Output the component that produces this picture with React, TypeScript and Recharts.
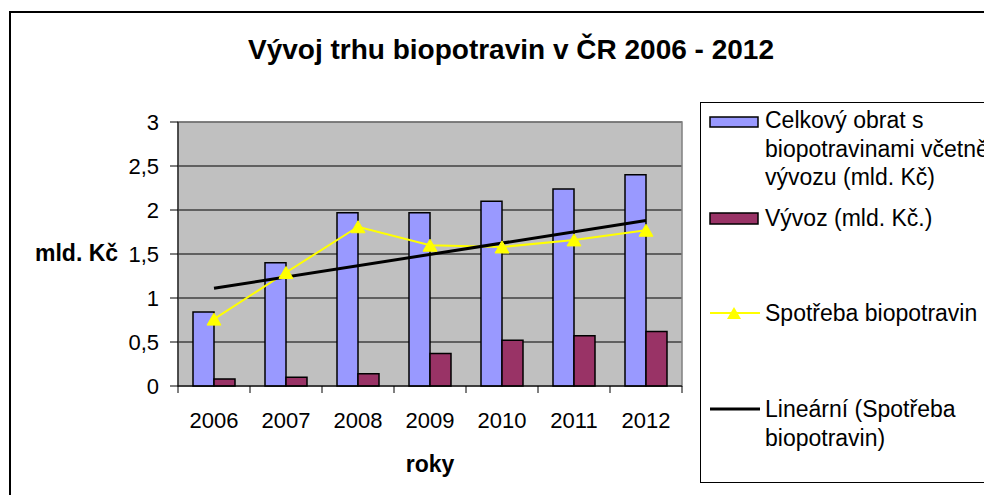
import { ComposedChart, Bar, Line, XAxis, YAxis, CartesianGrid, ReferenceArea } from 'recharts';

const years = ['2006', '2007', '2008', '2009', '2010', '2011', '2012'];
const obrat = [0.84, 1.4, 1.97, 1.97, 2.1, 2.24, 2.4];
const vyvoz = [0.08, 0.1, 0.14, 0.37, 0.52, 0.57, 0.62];
const spotreba = [0.76, 1.29, 1.81, 1.6, 1.58, 1.66, 1.77];
// Excel linear trend of spotreba, read at its two ends
const trend = [1.11, null, null, null, null, null, 1.88];
const yTicks = [0, 0.5, 1, 1.5, 2, 2.5, 3];

const seriesNames = [
  ['Celkový obrat s', 'biopotravinami včetně', 'vývozu (mld. Kč)'],
  ['Vývoz (mld. Kč.)'],
  ['Spotřeba biopotravin'],
  ['Lineární (Spotřeba', 'biopotravin)'],
];

const data = years.map((year, i) => ({
  year,
  obrat: obrat[i],
  vyvoz: vyvoz[i],
  spotreba: spotreba[i],
  trend: trend[i],
}));

const FONT = '"Liberation Sans", Arial, sans-serif';
const BLUE = '#9999FF';
const PLUM = '#993366';
const YELLOW = '#FFFF00';

function Triangle({ cx, cy }: any) {
  if (cx == null || cy == null) return null;
  return (
    <polygon
      points={`${cx},${cy - 6} ${cx + 7},${cy + 6} ${cx - 7},${cy + 6}`}
      fill={YELLOW}
      stroke={YELLOW}
    />
  );
}

function YearTick({ x, y, payload, index, visibleTicksCount }: any) {
  const axisY = y - 8;
  const half = payload?.offset || 36;
  return (
    <g>
      <line x1={x - half} x2={x - half} y1={axisY} y2={axisY + 7} stroke="#000" />
      {index === visibleTicksCount - 1 && (
        <line x1={x + half} x2={x + half} y1={axisY} y2={axisY + 7} stroke="#000" />
      )}
      <text x={x} y={axisY + 42} textAnchor="middle" fontSize={22} fontFamily={FONT} fill="#000">
        {payload.value}
      </text>
    </g>
  );
}

function LegendText({ lines, y }: { lines: string[]; y: number }) {
  return (
    <>
      {lines.map((t, i) => (
        <text key={i} x={765} y={y + i * 28.5} fontSize={23} fontFamily={FONT} fill="#000">
          {t}
        </text>
      ))}
    </>
  );
}

export default function App() {
  return (
    <div style={{ position: 'absolute', left: 0, top: 0, width: 984, height: 495, overflow: 'hidden', background: '#fff' }}>
      <div
        style={{
          position: 'absolute', left: 9, top: 11, width: 1000, height: 500,
          border: '2px solid #000', boxSizing: 'border-box',
        }}
      />
      <div style={{ position: 'absolute', left: 0, top: 0 }}>
        <ComposedChart
          width={984}
          height={495}
          data={data}
          margin={{ top: 122, right: 302, bottom: 69, left: 118 }}
          barGap={0}
        >
          <CartesianGrid vertical={false} stroke="#000" fill="#C0C0C0" fillOpacity={1} />
          <ReferenceArea x1="2006" x2="2012" y1={0} y2={3} fill="none" stroke="#808080" strokeWidth={1.5} />
          <XAxis
            dataKey="year"
            height={40}
            axisLine={{ stroke: '#000' }}
            tickLine={false}
            tickSize={6}
            tickMargin={2}
            tick={<YearTick />}
            interval={0}
          />
          <YAxis
            width={60}
            domain={[0, 3]}
            ticks={yTicks}
            axisLine={{ stroke: '#000' }}
            tickLine={{ stroke: '#000' }}
            tickSize={8}
            tickMargin={11}
            tick={{ fontSize: 22, fontFamily: FONT, fill: '#000' }}
            tickFormatter={(v: number) => String(v).replace('.', ',')}
          />
          <Bar dataKey="obrat" fill={BLUE} stroke="#000" strokeWidth={1.5} barSize={21} isAnimationActive={false} />
          <Bar dataKey="vyvoz" fill={PLUM} stroke="#000" strokeWidth={1.5} barSize={21} isAnimationActive={false} />
          <Line
            dataKey="spotreba"
            stroke={YELLOW}
            strokeWidth={2}
            dot={<Triangle />}
            activeDot={false}
            isAnimationActive={false}
          />
          <Line
            dataKey="trend"
            stroke="#000"
            strokeWidth={3}
            dot={false}
            activeDot={false}
            connectNulls
            isAnimationActive={false}
          />
        </ComposedChart>
      </div>
      <svg width={984} height={495} style={{ position: 'absolute', left: 0, top: 0, pointerEvents: 'none' }}>
        <text x={511} y={59} textAnchor="middle" fontSize={28} fontWeight="bold" fontFamily={FONT} fill="#000">
          Vývoj trhu biopotravin v ČR 2006 - 2012
        </text>
        <text x={35} y={261} fontSize={23} fontWeight="bold" fontFamily={FONT} fill="#000">
          mld. Kč
        </text>
        <text x={430} y={472} textAnchor="middle" fontSize={23} fontWeight="bold" fontFamily={FONT} fill="#000">
          roky
        </text>

        <rect x={700.5} y={102.5} width={300} height={380} fill="#fff" stroke="#000" strokeWidth={1} />
        <rect x={710} y={117} width={48} height={10} fill={BLUE} stroke="#000" strokeWidth={1.5} />
        <LegendText lines={seriesNames[0]} y={128} />
        <rect x={710} y={213} width={48} height={11} fill={PLUM} stroke="#000" strokeWidth={1.5} />
        <LegendText lines={seriesNames[1]} y={226} />
        <line x1={710} x2={760} y1={313} y2={313} stroke={YELLOW} strokeWidth={2} />
        <polygon points="734,307 741,319 727,319" fill={YELLOW} />
        <LegendText lines={seriesNames[2]} y={321} />
        <line x1={710} x2={760} y1={409} y2={409} stroke="#000" strokeWidth={3} />
        <LegendText lines={seriesNames[3]} y={417} />
      </svg>
    </div>
  );
}
